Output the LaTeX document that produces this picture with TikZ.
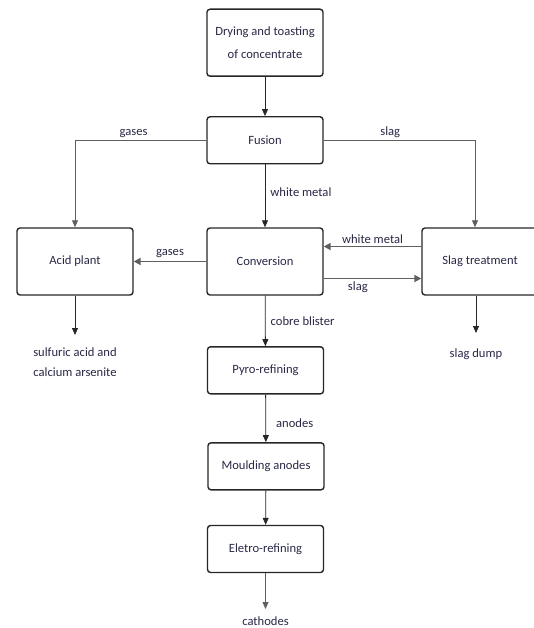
\documentclass[tikz,border=0pt]{standalone}
\usepackage{fontspec}
\setmainfont{Carlito}
\usetikzlibrary{arrows.meta}
\definecolor{inkblue}{RGB}{40,40,70}
\definecolor{wiregray}{RGB}{95,95,95}
\tikzset{
  stage/.style={
    draw=black!85,
    line width=1.4,
    rounded corners=3,
    minimum width=116,
    minimum height=47,
    align=center,
    text=inkblue,
    font=\fontsize{12.6}{23}\selectfont
  },
  flow/.style={
    -{Triangle[length=7,width=6]},
    line width=0.8,
    draw=black!85
  },
  heavy/.style={
    flow,
    line width=1.8,
    draw=wiregray,
    -{Triangle[length=7,width=7]}
  },
  tag/.style={
    text=inkblue,
    font=\fontsize{12.6}{20}\selectfont,
    inner sep=2,
    align=center
  }
}

\begin{document}
\begin{tikzpicture}[x=1pt,y=-1pt]
\useasboundingbox (0,0) rectangle (534,628);
%\draw[help lines] (0,0) grid[step=50] (534,628);
\node[stage,minimum height=67] (dry)   at (265,42.7)  {Drying and toasting\\of concentrate};
\node[stage]                   (fus)   at (265,140.3) {Fusion};
\node[stage,minimum height=67] (acid)  at (75,261.5)  {Acid plant};
\node[stage,minimum height=67] (conv)  at (265,261.5) {Conversion};
\node[stage,minimum height=67] (slagt) at (480,261.5) {Slag treatment};
\node[stage]                   (pyro)  at (265.5,370.3) {Pyro-refining};
\node[stage]                   (mould) at (266,466.3) {Moulding anodes};
\node[stage]                   (elec)  at (265.5,549) {Eletro-refining};

% end products
\node[tag,anchor=north,inner xsep=2,inner ysep=13] (sulf) at (75,335) {sulfuric acid and\\calcium arsenite};
\node[tag,anchor=north,inner xsep=2,inner ysep=16] (dump) at (476,333) {slag dump};
\node[tag,anchor=north,inner xsep=2,inner ysep=8]  (cath) at (265.5,609) {cathodes};

\draw[flow] (dry) -- (fus);
\draw[flow,draw=wiregray] (fus.west) -| (acid.north)
  node[tag,pos=0.25,above,xshift=-7] {gases};
\draw[flow,draw=wiregray] (fus.east) -| ([xshift=-5]slagt.north)
  node[tag,pos=0.22,above] {slag};
\draw[flow] (fus) -- (conv)
  node[tag,midway,right,xshift=3,yshift=4] {white metal};
\draw[heavy] (conv) -- (acid)
  node[tag,midway,above,yshift=1] {gases};
\draw[heavy] ([yshift=15]slagt.west) -- ([yshift=15]conv.east)
  node[tag,midway,above] {white metal};
\draw[heavy] ([yshift=-17]conv.east) -- ([yshift=-17]slagt.west)
  node[tag,pos=0.35,below] {slag};
\draw[flow] (conv) -- (pyro)
  node[tag,midway,right,xshift=3] {cobre blister};
\draw[flow] (pyro) -- (mould)
  node[tag,midway,right,xshift=8,yshift=-5] {anodes};
\draw[flow] (mould) -- (elec);
\draw[flow] (acid) -- (sulf);
\draw[flow] ([xshift=-4]slagt.south) -- (dump);
\draw[flow,draw=wiregray] (elec) -- (cath);
\end{tikzpicture}
\end{document}
